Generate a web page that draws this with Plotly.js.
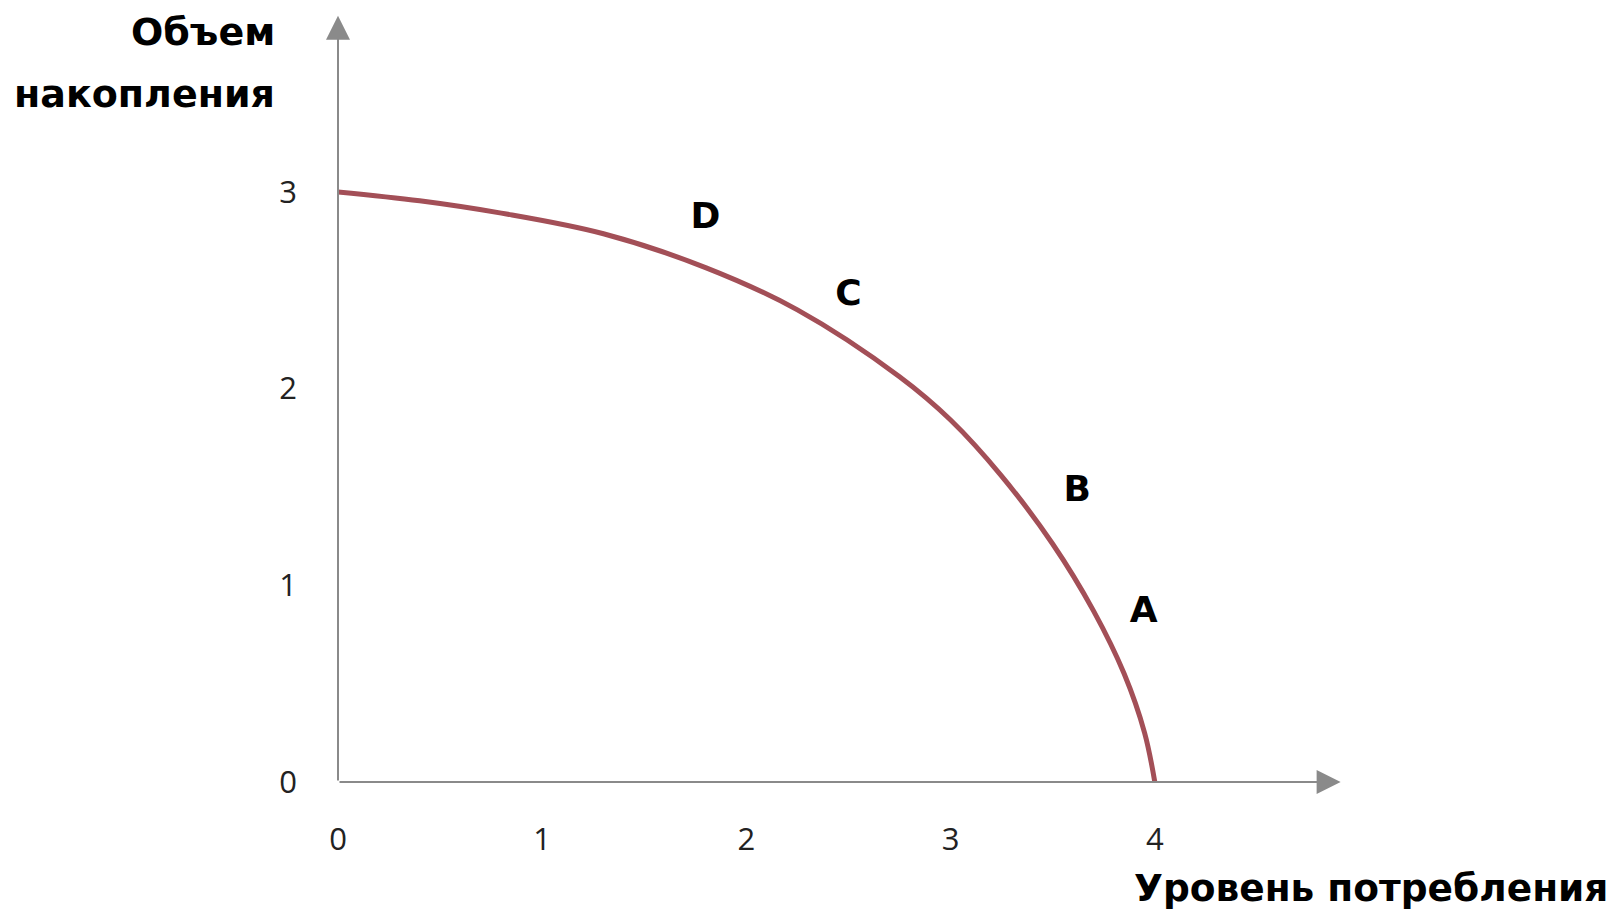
<!DOCTYPE html>
<html>
<head>
<meta charset="utf-8">
<script src="https://cdn.plot.ly/plotly-3.0.1.min.js"></script>
<style>
html,body{margin:0;padding:0;background:#fff;}
#chart{width:1616px;height:912px;}
</style>
</head>
<body>
<div id="chart"></div>
<script>
// Production possibilities curve
const consumption = [0, 0.4, 0.8, 1.3, 1.8, 2.25, 2.75, 3.0, 3.25, 3.5, 3.7, 3.85, 3.95, 4.0];
const accumulation = [3.0, 2.955, 2.892, 2.787, 2.615, 2.40, 2.06, 1.84, 1.555, 1.21, 0.87, 0.55, 0.25, 0];

// Point labels
const pointNames = ["D", "C", "B", "A"];
const pointX = [1.80, 2.50, 3.62, 3.945];
const pointY = [2.862, 2.472, 1.472, 0.857];

const xTicks = [0, 1, 2, 3, 4];
const yTicks = [0, 1, 2, 3];

const xTitle = "Уровень потребления";
const yTitleLines = ["Объем", "накопления"];

const axisColor = "#8a8a8a";
const curveColor = "#a34f57";

// plot geometry
const pxPerX = 204.25, pxPerY = 196.67;
const xMax = 5.0, yMax = 3.95;
const mLeft = 338, mBottom = 130;
const mRight = 1616 - mLeft - xMax * pxPerX;
const mTop = 912 - mBottom - yMax * pxPerY;
const plotW = xMax * pxPerX, plotH = yMax * pxPerY;

const traces = [
  {
    x: consumption, y: accumulation,
    type: "scatter", mode: "lines",
    line: {color: curveColor, width: 5, shape: "spline", smoothing: 1},
    hoverinfo: "skip", showlegend: false, cliponaxis: false
  },
  {
    x: pointX, y: pointY, text: pointNames,
    type: "scatter", mode: "text",
    textfont: {family: "DejaVu Sans", size: 36, color: "#000", weight: "bold"},
    textposition: "middle center",
    hoverinfo: "skip", showlegend: false, cliponaxis: false
  }
];

const xTitleFont = {family: "DejaVu Sans", size: 37.5, color: "#000", weight: "bold"};
const yTitleFont = {family: "DejaVu Sans", size: 38, color: "#000", weight: "bold"};

const layout = {
  width: 1616, height: 912,
  paper_bgcolor: "#fff", plot_bgcolor: "#fff",
  margin: {l: mLeft, r: mRight, t: mTop, b: mBottom, pad: 0},
  showlegend: false,
  xaxis: {
    range: [0, xMax], showgrid: false, zeroline: false, showline: false,
    tickvals: xTicks, ticktext: xTicks.map(String), ticks: "",
    ticklabelstandoff: 36,
    tickfont: {family: "Open Sans", size: 31, color: "#222"},
    fixedrange: true
  },
  yaxis: {
    range: [0, yMax], showgrid: false, zeroline: false, showline: false,
    tickvals: yTicks, ticktext: yTicks.map(String), ticks: "",
    ticklabelstandoff: 40,
    tickfont: {family: "Open Sans", size: 31, color: "#222"},
    fixedrange: true
  },
  annotations: [
    // x axis with arrow
    {x: 4.91, y: 0, ax: 0, ay: 0, xref: "x", yref: "y", axref: "x", ayref: "y",
     text: "", showarrow: true, arrowhead: 2, arrowsize: 2.4, arrowwidth: 2, arrowcolor: axisColor, standoff: 0, startstandoff: 0},
    // y axis with arrow
    {x: 0, y: 3.895, ax: 0, ay: 0, xref: "x", yref: "y", axref: "x", ayref: "y",
     text: "", showarrow: true, arrowhead: 2, arrowsize: 2.4, arrowwidth: 2, arrowcolor: axisColor, standoff: 0, startstandoff: 0},
    // axis titles
    {xref: "paper", yref: "paper", x: (1610 - mLeft) / plotW, y: (782 - 888) / plotH, xanchor: "right", yanchor: "middle",
     text: xTitle, showarrow: false, align: "right", font: xTitleFont},
    {xref: "paper", yref: "paper", x: -61 / plotW, y: (782 - 32) / plotH, xanchor: "right", yanchor: "middle",
     text: yTitleLines[0], showarrow: false, align: "right", font: yTitleFont},
    {xref: "paper", yref: "paper", x: -61 / plotW, y: (782 - 94) / plotH, xanchor: "right", yanchor: "middle",
     text: yTitleLines[1], showarrow: false, align: "right", font: yTitleFont}
  ]
};

Plotly.newPlot("chart", traces, layout, {displayModeBar: false, staticPlot: true});
</script>
</body>
</html>
